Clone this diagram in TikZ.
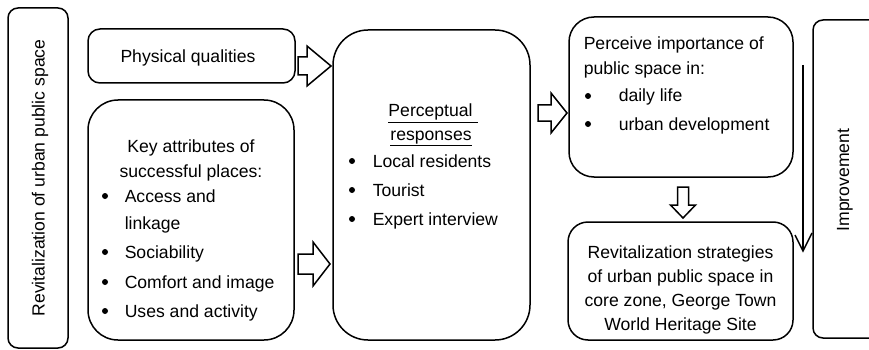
\documentclass[tikz,border=0pt]{standalone}
\usepackage{fontspec}
\setmainfont{Liberation Sans}
\begin{document}
\begin{tikzpicture}[x=1pt,y=-1pt,line width=1.5pt,
  box/.style={draw,line width=1.5pt,inner sep=0pt},
  txt/.style={font=\fontsize{17.6}{27}\selectfont,inner sep=0pt,anchor=base west},
  ctxt/.style={txt,anchor=base},
  rtxt/.style={font=\fontsize{17.6}{27}\selectfont,inner sep=0pt,rotate=90,anchor=center},
  bul/.style={circle,fill=black,inner sep=0pt,minimum size=6pt},
  blk/.style={draw,fill=white,line width=1.5pt,line join=miter}]
\useasboundingbox (0,0) rectangle (869,350);

% boxes
\node[box,rounded corners=10pt,minimum width=60pt,minimum height=340pt] (left) at (38,178) {};
\node[box,rounded corners=12pt,minimum width=207pt,minimum height=54pt] (phys) at (191.5,56) {};
\node[box,rounded corners=30pt,minimum width=206pt,minimum height=240pt] (key) at (191,220) {};
\node[box,rounded corners=35pt,minimum width=197pt,minimum height=310pt] (perc) at (431.5,185) {};
\node[box,rounded corners=25pt,minimum width=224pt,minimum height=160pt] (imp) at (681,97) {};
\node[box,rounded corners=20pt,minimum width=225pt,minimum height=118pt] (rev) at (680.5,281) {};
\node[box,rounded corners=10pt,minimum width=87pt,minimum height=318pt] (impr) at (856.5,179) {};

% texts
\node[rtxt] (lefttxt) at (40,178) {Revitalization of urban public space};
\node[rtxt] (imprtxt) at (845,180) {Improvement};
\node[ctxt] (phystxt) at (188,63) {Physical qualities};

\node[ctxt] (k1) at (191,152) {Key attributes of};
\node[ctxt] (k2) at (191,177) {successful places:};
\node[bul] (kb1) at (105,196) {};
\node[txt] (k3) at (124,202) {Access and};
\node[txt] (k4) at (124,229) {linkage};
\node[bul] (kb2) at (105,252) {};
\node[txt] (k5) at (124,258) {Sociability};
\node[bul] (kb3) at (105,282) {};
\node[txt] (k6) at (124,288) {Comfort and image};
\node[bul] (kb4) at (105,311) {};
\node[txt] (k7) at (124,317) {Uses and activity};

\node[ctxt] (p1) at (433,117) {\underline{Perceptual\ }};
\node[ctxt] (p2) at (431,140) {\underline{responses}};
\node[bul] (pb1) at (352,161) {};
\node[txt] (p3) at (372,167) {Local residents};
\node[bul] (pb2) at (352,190) {};
\node[txt] (p4) at (372,196) {Tourist};
\node[bul] (pb3) at (352,219) {};
\node[txt] (p5) at (372,225) {Expert interview};

\node[txt] (i1) at (583,50) {Perceive importance of};
\node[txt] (i2) at (583,75) {public space in:};
\node[bul] (ib1) at (588,96) {};
\node[txt] (i3) at (618,102) {daily life};
\node[bul] (ib2) at (588,124) {};
\node[txt] (i4) at (618,130) {urban development};

\node[ctxt] (r1) at (680.5,258) {Revitalization strategies};
\node[ctxt] (r2) at (680.5,282) {of urban public space in};
\node[ctxt] (r3) at (680.5,306) {core zone, George Town};
\node[ctxt] (r4) at (680.5,330) {World Heritage Site};

% block arrows
\draw[blk] (298,57) -- (307,57) -- (307,46) -- (331,66) -- (307,86) -- (307,75) -- (298,75) -- cycle;
\draw[blk] (298,254) -- (313,254) -- (313,242) -- (330,264) -- (313,286) -- (313,274) -- (298,274) -- cycle;
\draw[blk] (538,105) -- (551,105) -- (551,93) -- (567,113) -- (551,133) -- (551,121) -- (538,121) -- cycle;
\draw[blk] (677.5,187) -- (688.5,187) -- (688.5,205) -- (695.5,205) -- (683,218) -- (670.5,205) -- (677.5,205) -- cycle;

% long arrow
\coordinate (ltop) at (803,65);
\coordinate (ltip) at (803,251);
\draw (ltop) -- (ltip);
\draw[line join=miter] (795,235) -- (ltip) -- (812,233);
\end{tikzpicture}
\end{document}
